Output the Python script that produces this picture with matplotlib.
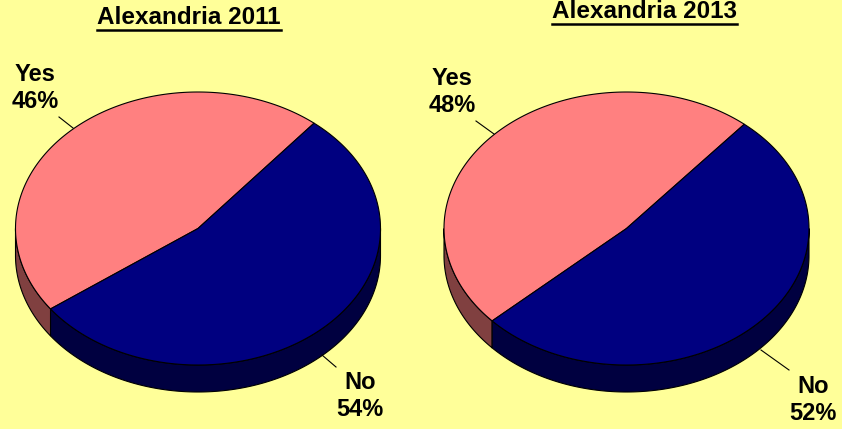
import numpy as np
import matplotlib
matplotlib.use("Agg")
import matplotlib.pyplot as plt
from matplotlib.patches import Polygon

# ---- data ----
titles = ["Alexandria 2011", "Alexandria 2013"]
categories = ["Yes", "No"]
yes_pct = [46, 48]
no_pct = [54, 52]

# ---- style / layout ----
BG = "#FFFF99"
top_colors = ["#FF8080", "#000080"]
side_colors = ["#804040", "#000040"]
centers = [(198.0, 228.5), (626.5, 228.5)]
A, B, DEPTH = 182.5, 136.5, 27.0
start_angles = [50.5, 49.8]
title_pos = [(189, 18), (644, 12)]
yes_lbl = [(35, 88), (452, 92)]
no_lbl = [(360, 396), (813, 400)]
yes_lead = [((59, 117), (73, 128)), ((476, 121), (494, 134))]
no_lead = [((322, 355), (336, 367)), ((761, 350), (789, 370))]

plt.rcParams["font.family"] = ["Liberation Sans", "DejaVu Sans"]
fig = plt.figure(figsize=(8.42, 4.29), dpi=100, facecolor=BG)
ax = fig.add_axes([0, 0, 1, 1])
ax.set_xlim(0, 842)
ax.set_ylim(429, 0)
ax.set_facecolor(BG)
ax.axis("off")


def pt(cx, cy, t, dz=0.0):
    return cx + A * np.cos(t), cy - B * np.sin(t) + dz


for i in range(2):
    cx, cy = centers[i]
    vals = [yes_pct[i], no_pct[i]]
    total = float(sum(vals))
    s0 = np.deg2rad(start_angles[i])
    bounds = [s0]
    for v in vals:
        bounds.append(bounds[-1] + 2 * np.pi * v / total)
    # sides (front half: angles in [pi, 2pi] modulo 2pi)
    for k in range(2):
        t0, t1 = bounds[k], bounds[k + 1]
        for base in (np.pi, 3 * np.pi):
            lo, hi = max(t0, base), min(t1, base + np.pi)
            if hi > lo:
                ts = np.linspace(lo, hi, 200)
                xs, ys = pt(cx, cy, ts)
                xb, yb = pt(cx, cy, ts[::-1], DEPTH)
                poly = np.column_stack([np.r_[xs, xb], np.r_[ys, yb]])
                ax.add_patch(Polygon(poly, closed=True, facecolor=side_colors[k],
                                     edgecolor="black", linewidth=0.8, zorder=2))
    # top wedges
    for k in range(2):
        ts = np.linspace(bounds[k], bounds[k + 1], 400)
        xs, ys = pt(cx, cy, ts)
        poly = np.column_stack([np.r_[cx, xs], np.r_[cy, ys]])
        ax.add_patch(Polygon(poly, closed=True, facecolor=top_colors[k],
                             edgecolor="black", linewidth=0.8, zorder=3))
    # labels
    ax.text(*yes_lbl[i], f"{categories[0]}\n{yes_pct[i]}%", ha="center", va="center",
            fontsize=17, fontweight="bold", linespacing=1.25, zorder=5)
    ax.text(*no_lbl[i], f"{categories[1]}\n{no_pct[i]}%", ha="center", va="center",
            fontsize=17, fontweight="bold", linespacing=1.25, zorder=5)
    for (p, q) in (yes_lead[i], no_lead[i]):
        ax.plot([p[0], q[0]], [p[1], q[1]], color="black", linewidth=0.8, zorder=4)
    # title with underline
    ax.text(*title_pos[i], titles[i], ha="center", va="center",
            fontsize=17.5, fontweight="bold", zorder=5)

fig.canvas.draw()
renderer = fig.canvas.get_renderer()
for txt in ax.texts:
    if txt.get_text() in titles:
        bb = txt.get_window_extent(renderer)
        inv = ax.transData.inverted()
        (x0, y0), (x1, y1) = inv.transform([(bb.x0, bb.y0), (bb.x1, bb.y1)])
        ax.plot([x0, x1], [y0 + 0.5, y0 + 0.5], color="black", linewidth=1.8, zorder=5)

fig.savefig("out.png", dpi=100, facecolor=BG)
